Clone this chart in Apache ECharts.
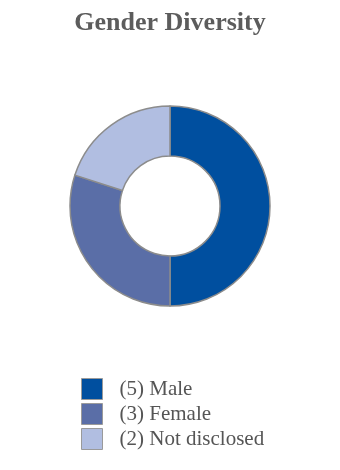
<!DOCTYPE html>
<html><head><meta charset="utf-8">
<script src="https://cdn.jsdelivr.net/npm/echarts@6/dist/echarts.min.js"></script>
<style>html,body{margin:0;padding:0;background:#fff}#c{width:340px;height:470px}</style>
</head><body><div id="c"></div>
<script>
const titleText = "Gender Diversity";
const categories = ["Male", "Female", "Not disclosed"];
const values = [5, 3, 2];
const colors = ["#004f9f", "#5a6ea7", "#b1bee1"];

const data = categories.map((c, i) => ({
  name: "(" + values[i] + ") " + c,
  value: values[i],
  itemStyle: { color: colors[i] }
}));

const chart = echarts.init(document.getElementById('c'), null, { renderer: 'canvas' });
chart.setOption({
  animation: false,
  title: {
    text: titleText,
    left: 'center',
    top: 5,
    textStyle: { fontFamily: 'Liberation Serif', fontWeight: 'bold', fontSize: 26, color: '#5c5c5c' }
  },
  legend: {
    orient: 'vertical',
    left: 76,
    top: 373,
    itemWidth: 21,
    itemHeight: 21,
    itemGap: 3,
    icon: 'rect',
    selectedMode: false,
    itemStyle: { borderColor: '#9a9a9a', borderWidth: 1 },
    textStyle: { fontFamily: 'Liberation Serif', fontSize: 21, lineHeight: 21, color: '#555', padding: [0, 0, 0, 12] },
    data: data.map(d => d.name)
  },
  series: [{
    type: 'pie',
    center: [170, 206],
    radius: [50, 100],
    startAngle: 90,
    clockwise: true,
    label: { show: false },
    labelLine: { show: false },
    emphasis: { disabled: true },
    itemStyle: { borderColor: '#8c8c8c', borderWidth: 1.5 },
    data: data
  }]
});
</script></body></html>
